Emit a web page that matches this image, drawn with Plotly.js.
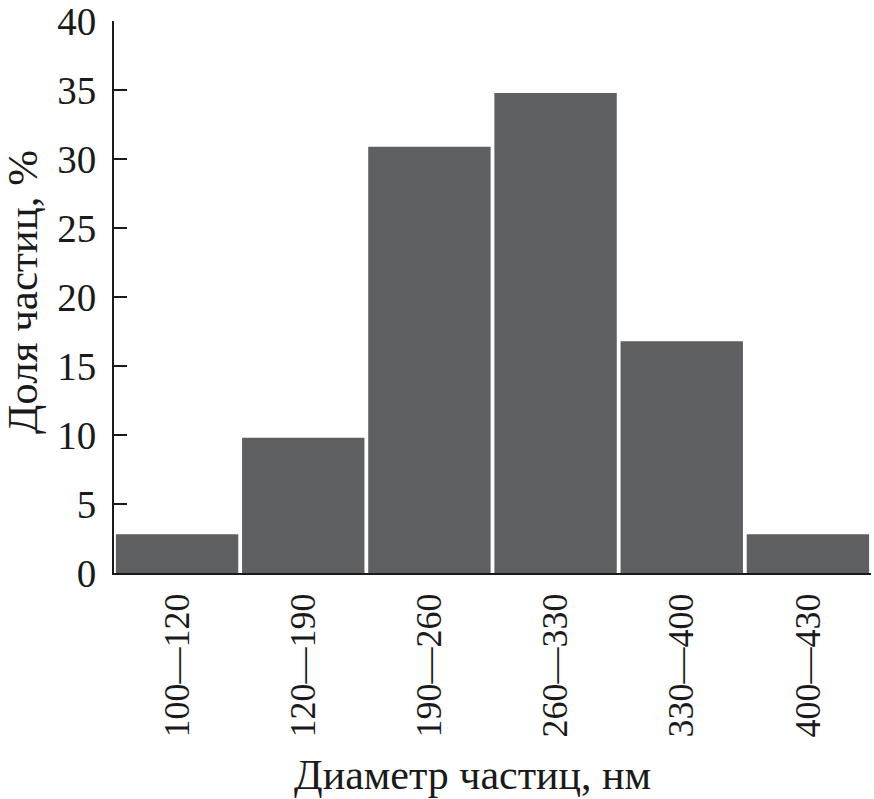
<!DOCTYPE html>
<html><head><meta charset="utf-8">
<script src="https://cdn.plot.ly/plotly-3.0.1.min.js"></script>
<style>html,body{margin:0;padding:0;background:#fff;}</style>
</head><body>
<div id="chart" style="width:874px;height:799px;"></div>
<script>
const categories = ["100—120", "120—190", "190—260", "260—330", "330—400", "400—430"];
const shares = [2.8, 9.8, 30.9, 34.8, 16.8, 2.8];
const yTicks = [0, 5, 10, 15, 20, 25, 30, 35, 40];
const xTitle = "Диаметр частиц, нм";
const yTitle = "Доля частиц, %";

const font = {family: "Liberation Serif, Times New Roman, serif", color: "#1a1a1a"};

Plotly.newPlot("chart", [{
  type: "bar",
  x: categories,
  y: shares,
  marker: {color: "#5e5f61", line: {width: 0}},
  hoverinfo: "none"
}], {
  width: 874, height: 799,
  margin: {l: 114, r: 3, t: 21, b: 226},
  paper_bgcolor: "#fff", plot_bgcolor: "#fff",
  bargap: 0.03,
  showlegend: false,
  xaxis: {
    type: "category",
    range: [-0.5, 5.5],
    showline: true, linecolor: "#1a1a1a", linewidth: 2,
    ticks: "", showgrid: false, zeroline: false,
    tickangle: -90,
    tickfont: Object.assign({size: 36}, font),
    ticklabelstandoff: 4
  },
  yaxis: {
    range: [0, 40.01],
    tickvals: yTicks,
    showline: true, linecolor: "#1a1a1a", linewidth: 2,
    ticks: "inside", ticklen: 13, tickwidth: 2, tickcolor: "#1a1a1a",
    showgrid: false, zeroline: false,
    tickfont: Object.assign({size: 39}, font),
    ticklabeloverflow: "allow",
    ticklabelstandoff: 8
  },
  annotations: [
    {text: xTitle, xref: "paper", yref: "paper", x: 0.473, y: -0.366,
     xanchor: "center", yanchor: "middle", showarrow: false,
     font: Object.assign({size: 42}, font)},
    {text: yTitle, xref: "paper", yref: "paper", x: -0.1215, y: 0.509,
     xanchor: "center", yanchor: "middle", showarrow: false, textangle: -90,
     font: Object.assign({size: 43}, font)}
  ]
}, {displayModeBar: false, staticPlot: true});
</script>
</body></html>
